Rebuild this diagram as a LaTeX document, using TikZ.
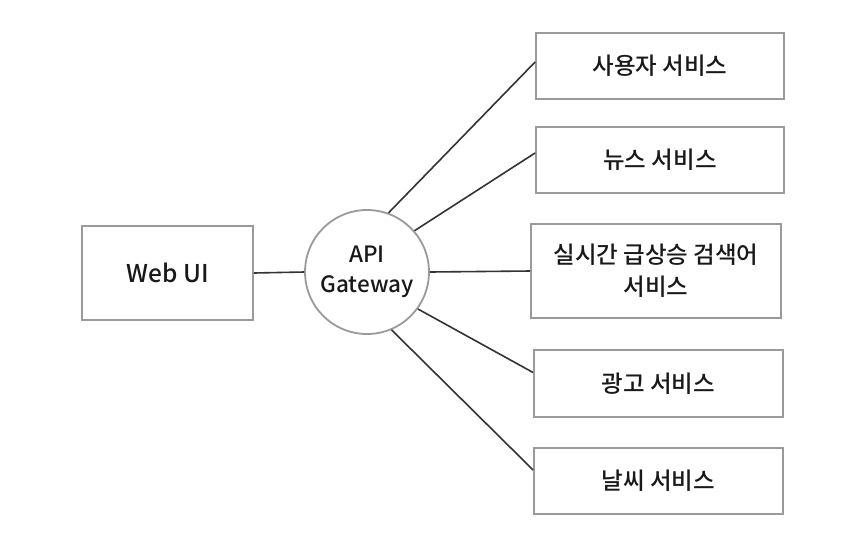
\documentclass[tikz,border=0pt]{standalone}
\usepackage{fontspec}
\setmainfont{Noto Sans CJK KR}[UprightFont=* Medium]
\usetikzlibrary{calc}
\definecolor{boxgray}{HTML}{9A9A9A}
\definecolor{linegray}{HTML}{333333}
\tikzset{
  svc/.style={draw=boxgray, line width=1.8pt, minimum width=248pt, minimum height=66pt, inner sep=0pt, align=center, font=\fontsize{23.5}{32}\selectfont, text=black!90},
  link/.style={draw=linegray, line width=1.6pt},
}
\begin{document}
\begin{tikzpicture}[x=1pt,y=-1pt]
\useasboundingbox[fill=white] (0,0) rectangle (848,550);
\node[svc, minimum width=171pt, minimum height=94pt, font=\fontsize{24.5}{30}\selectfont] (web) at (167.5,273) {Web UI};
\node[draw=boxgray, line width=1.8pt, circle, minimum size=124pt, inner sep=0pt, align=center, font=\fontsize{22.5}{30}\selectfont, text=black!90] (gw) at (367,272) {API\\Gateway};
\node[svc] (s1) at (660,66) {사용자 서비스};
\node[svc] (s2) at (660,160) {뉴스 서비스};
\node[svc, minimum width=250pt, minimum height=94pt] (s3) at (656,271) {실시간 급상승 검색어\\서비스};
\node[svc, minimum width=249pt, minimum height=67pt] (s4) at (658.5,383.5) {광고 서비스};
\node[svc, minimum width=249pt] (s5) at (658.5,481) {날씨 서비스};
\draw[link] (web.east) -- (gw.west);
\draw[link] (gw.70) -- ($(s1.west)+(0,-4)$);
\draw[link] (gw.41) -- ($(s2.west)+(0,-7)$);
\draw[link] (gw.east) -- (s3.west);
\draw[link] (gw.-36) -- ($(s4.west)+(0,-11)$);
\draw[link] (gw.-67) -- ($(s5.west)+(0,-11)$);
\end{tikzpicture}
\end{document}
